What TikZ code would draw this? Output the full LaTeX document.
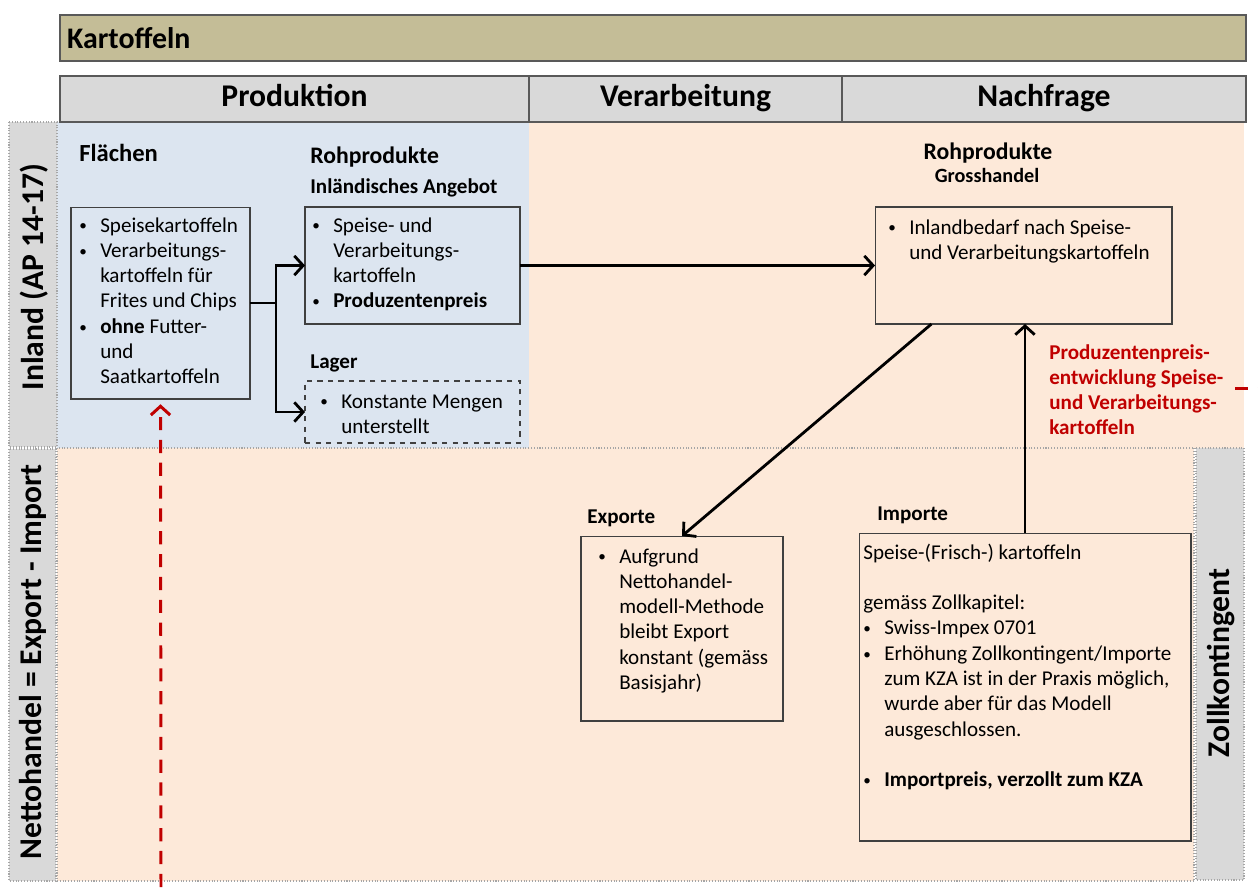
\documentclass[tikz,border=0pt]{standalone}
\usepackage{fontspec}
\setmainfont{Carlito}
\usetikzlibrary{arrows.meta,calc,positioning}
\definecolor{titletan}{RGB}{196,189,151}
\definecolor{headgray}{RGB}{217,217,217}
\definecolor{inlandblue}{RGB}{220,229,240}
\definecolor{tradeorange}{RGB}{253,233,217}
\definecolor{darkred}{RGB}{192,0,0}
\definecolor{framegray}{RGB}{89,89,89}
\newcommand{\bodyfont}{\fontsize{12pt}{14.4pt}\selectfont}
\newcommand{\bpt}{\strut\makebox[11.9pt][l]{\raisebox{0.12ex}{\scalebox{0.72}{\textbullet}}}}
\newcommand{\bin}{\strut\hspace*{11.9pt}}

\begin{document}
\begin{tikzpicture}[x=0.02cm,y=-0.02cm,
    box/.style={draw=black!75,line width=0.6pt,rectangle,inner sep=0,outer sep=0},
    txt/.style={anchor=north west,inner sep=0,align=left,font=\bodyfont},
    headcell/.style={draw=framegray,line width=0.9pt,fill=headgray,minimum height=0.92cm,
        inner sep=0,text height=12.5pt,text depth=3.5pt,
        font=\bfseries\fontsize{18pt}{21pt}\selectfont},
    sidelbl/.style={rotate=90,inner sep=0,font=\bfseries\fontsize{18pt}{21pt}\selectfont},
    sublbl/.style={anchor=west,inner sep=0,font=\bfseries\fontsize{12pt}{14pt}\selectfont},
    arr/.style={line width=1.6pt,-{Straight Barb[length=5pt,width=11pt]}},
    reddash/.style={darkred,line width=1.7pt,dash pattern=on 7.5pt off 5.5pt},
    dotbox/.style={draw=gray!70,densely dotted,line width=0.6pt}]
    \useasboundingbox (0,0) rectangle (1258,887);

    % Background regions
    \fill[inlandblue] (57,122) rectangle (529,448);
    \fill[tradeorange] (529,122) rectangle (1244,448);
    \draw[dotbox,fill=tradeorange] (57,448) rectangle (1194,881);
    \draw[dotbox,fill=headgray] (9,122) rectangle (57,447);
    \draw[dotbox,fill=headgray] (9,449) rectangle (56,881);
    \draw[dotbox,fill=headgray] (1196,448) rectangle (1244,880);

    % Title and column heads
    \node[draw=framegray,line width=0.9pt,fill=titletan,minimum height=0.92cm,
        text width=23.44cm,inner xsep=0.14cm,inner ysep=0,align=left,
        font=\bfseries\fontsize{17pt}{20pt}\selectfont] (titlebar) at (653,38) {Kartoffeln};
    \node[headcell,minimum width=9.38cm] (hprod) at (294.5,99) {Produktion};
    \node[headcell,minimum width=6.26cm] (hverarb) at (685.5,99) {Verarbeitung};
    \node[headcell,minimum width=8.08cm] (hnachf) at (1044,99) {Nachfrage};

    % Row labels
    \node[sidelbl] (inlandlbl) at (34,277) {Inland (AP 14-17)};
    \node[sidelbl] (nettolbl) at (33,662) {Nettohandel = Export - Import};
    \node[sidelbl] (zolllbl) at (1221,663) {Zollkontingent};

    % Inland: boxes
    \node[box,minimum width=3.58cm,minimum height=3.84cm] (flaechen) at (160.5,303) {};
    \node[box,minimum width=4.30cm,minimum height=2.34cm] (rohprod) at (412.5,265.5) {};
    \node[box,dashed,minimum width=4.30cm,minimum height=1.24cm] (lager) at (412.5,412) {};
    \node[box,minimum width=5.94cm,minimum height=2.34cm] (gross) at (1023.5,265.5) {};

    \node[sublbl,font=\bfseries\fontsize{14pt}{16pt}\selectfont] (flaechenlbl) at (79,153) {Flächen};
    \node[sublbl,font=\bfseries\fontsize{13.5pt}{16pt}\selectfont] (rohprodlbl) at (310,157) {Rohprodukte};
    \node[sublbl] (angebotlbl) at (310,188) {Inländisches Angebot};
    \node[sublbl] (lagerlbl) at (310,363) {Lager};
    \node[inner sep=0,font=\bfseries\fontsize{13.5pt}{16pt}\selectfont] (grosslbl) at (988,153) {Rohprodukte};
    \node[inner sep=0,font=\bfseries\fontsize{11.5pt}{14pt}\selectfont] (grosssub) at (987,175) {Grosshandel};

    \node[txt] (flaechentxt) at (79,214) {\bpt Speisekartoffeln\\ \bpt Verarbeitungs-\\
        \bin kartoffeln für\\ \bin Frites und Chips\\ \bpt \textbf{ohne} Futter-\\
        \bin und\\ \bin Saatkartoffeln};
    \node[txt] (rohprodtxt) at (312,214) {\bpt Speise- und\\ \bin Verarbeitungs-\\
        \bin kartoffeln\\ \bpt \textbf{Produzentenpreis}};
    \node[txt] (lagertxt) at (320,390) {\bpt Konstante Mengen\\ \bin unterstellt};
    \node[txt] (grosstxt) at (888,216) {\bpt Inlandbedarf nach Speise-\\
        \bin und Verarbeitungskartoffeln};

    % Nettohandel: boxes
    \node[box,minimum width=4.04cm,minimum height=3.70cm] (exporte) at (682,628.5) {};
    \node[box,minimum width=6.64cm,minimum height=6.16cm] (importe) at (1025,687) {};

    \node[sublbl] (exportelbl) at (587,518) {Exporte};
    \node[sublbl] (importelbl) at (877,515) {Importe};

    \node[txt] (exportetxt) at (598,545) {\bpt Aufgrund\\ \bin Nettohandel-\\
        \bin modell-Methode\\ \bin bleibt Export\\ \bin konstant (gemäss\\ \bin Basisjahr)};
    \node[txt] (importetxt) at (863,541) {\strut Speise-(Frisch-) kartoffeln\\ \strut\\
        \strut gemäss Zollkapitel:\\ \bpt Swiss-Impex 0701\\
        \bpt Erhöhung Zollkontingent/Importe\\ \bin zum KZA ist in der Praxis möglich,\\
        \bin wurde aber für das Modell\\ \bin ausgeschlossen.\\ \strut\\
        \bpt \textbf{Importpreis, verzollt zum KZA}};

    % Price note
    \node[txt,darkred,font=\bfseries\fontsize{12pt}{14.2pt}\selectfont] (preisnote) at (1049,342)
        {\strut Produzentenpreis-\\ \strut entwicklung Speise-\\ \strut und Verarbeitungs-\\ \strut kartoffeln};

    % Flows
    \draw[line width=1.6pt] (flaechen.east) -- ++(26,0) coordinate (split);
    \draw[arr] (split) |- (rohprod.west);
    \draw[arr] (split) |- (lager.west);
    \draw[arr] (rohprod.east) -- (rohprod.east -| gross.west);
    \draw[arr] ($(gross.south west)!0.19!(gross.south east)$) -- (exporte.north);
    \draw[arr] (importe.north) -- (importe.north |- gross.south);

    % Red dashed links
    \coordinate (redfoot) at (161,887);
    \draw[reddash,-{Straight Barb[length=5pt,width=11pt]},shorten >=3pt] (redfoot) -- (flaechen.south);
    \coordinate (redstub) at (1235,388);
    \draw[reddash] (redstub) -- ++(23,0);
\end{tikzpicture}
\end{document}
